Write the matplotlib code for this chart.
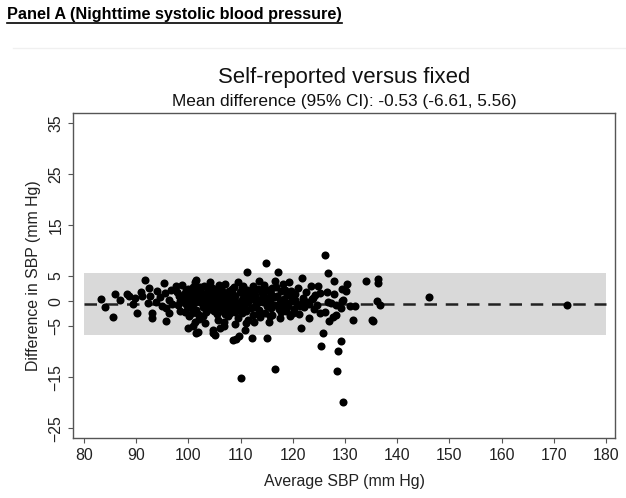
import matplotlib
matplotlib.use('Agg')
import matplotlib.pyplot as plt
from matplotlib.lines import Line2D
from matplotlib.patches import Rectangle
from matplotlib.transforms import IdentityTransform

plt.rcParams['font.family'] = ['Liberation Sans', 'DejaVu Sans']

# Summary numbers printed on the chart
mean_diff = -0.53
lower_loa = -6.61
upper_loa = 5.56

# Average SBP (x) and difference in SBP (y)
avg_sbp = [
    83.2, 84.0, 85.5, 86.0, 86.9, 88.3, 88.7, 89.3, 89.8, 90.1,
    90.9, 91.6, 91.2, 92.5, 92.6, 92.2, 93.1, 93.0, 93.9, 93.8,
    95.4, 95.6, 95.8, 96.2, 95.8, 96.7, 96.3, 94.6, 95.0, 96.8,
    98.3, 99.4, 100.2, 99.9, 101.2, 101.5, 101.8, 101.3, 101.5, 100.8,
    97.6, 97.9, 98.1, 98.4, 98.0, 98.8, 99.1, 99.3, 99.6, 99.8,
    100.1, 100.3, 100.5, 100.7, 100.9, 101.1, 101.4, 101.6, 101.9, 102.1,
    102.3, 102.6, 102.8, 103.0, 103.2, 103.4, 103.6, 103.8, 102.0, 103.1,
    104.4, 104.7, 104.0, 104.2, 104.5, 104.8, 105.0, 105.1, 105.3, 105.5,
    105.7, 105.9, 106.0, 106.3, 106.2, 106.5, 106.7, 106.9, 107.0, 107.2,
    107.4, 107.6, 107.8, 108.0, 104.7, 105.6, 106.8, 107.9, 104.1, 105.8,
    108.5, 109.2, 109.6, 109.4, 108.3, 108.6, 108.8, 109.0, 109.1, 109.5,
    109.8, 110.0, 110.1, 110.3, 110.5, 110.6, 110.8, 111.0, 111.3, 111.4,
    111.2, 111.5, 111.7, 111.9, 112.1, 112.5, 112.3, 112.4, 108.9, 110.9,
    112.7, 112.9, 113.1, 113.3, 113.5, 113.6, 113.8, 114.0, 114.2, 114.4,
    114.6, 114.9, 114.8, 115.0, 115.1, 115.3, 115.5, 115.7, 115.9, 116.1,
    116.5, 116.6, 116.3, 116.8, 117.0, 117.2, 117.4, 117.5, 117.7, 117.9,
    118.2, 118.4, 118.6, 118.8, 119.0, 119.3, 119.5, 119.7, 119.9, 120.2,
    120.4, 120.7, 121.0, 121.2, 121.5, 121.7, 121.9, 122.2, 122.5, 122.8,
    123.1, 123.4, 123.7, 124.0, 124.3, 124.6, 124.9, 125.2, 125.2, 125.3,
    125.7, 126.2, 126.8, 127.9, 130.3, 129.4, 130.2, 126.5, 127.9, 126.8,
    127.4, 128.3, 129.4, 129.7, 129.2, 131.0, 131.9, 131.6, 128.3, 127.6,
    127.0, 126.2, 129.2, 128.7, 128.5, 129.7, 134.1, 136.3, 136.3, 136.2,
    136.7, 135.1, 135.3, 146.1, 172.5,
    99.0, 99.7, 100.4, 101.0, 101.7, 102.4, 102.9, 103.5, 104.3, 104.9,
    105.4, 106.1, 106.6, 107.3, 107.7, 108.1, 108.7, 109.3, 109.9, 110.4,
    110.9, 111.6, 112.0, 112.6, 113.2, 113.9, 114.5, 115.2, 115.8, 116.4,
    117.1, 117.6, 118.1, 118.9, 119.6, 120.5, 121.3, 122.0, 123.0, 123.9,
    100.0, 102.2, 104.6, 106.4, 108.4, 110.2, 112.2, 114.1, 116.0, 118.5,
    100.6, 102.7, 104.9, 107.1, 109.0, 111.1, 113.4, 115.6, 117.8, 120.0,
]
diff_sbp = [
    0.4, -1.2, -3.2, 1.4, 0.2, 1.4, 0.9, -0.6, 0.7, -2.3,
    1.7, 4.2, 0.9, 2.5, 0.9, -0.4, -2.4, -3.4, 2.0, -0.1,
    3.5, 1.6, -1.4, -2.4, -4.0, 2.2, 0.2, 0.8, -0.9, -0.6,
    -1.9, -2.1, -3.0, -5.3, -4.2, -6.3, -6.0, 3.8, 4.2, -5.0,
    2.9, 1.8, 0.9, 0.1, -0.8, 3.1, 1.4, -0.4, 2.2, 0.6,
    -1.2, 1.9, 0.2, -0.7, 2.7, 1.2, -1.8, 0.5, -2.6, 2.0,
    -0.2, 1.5, -1.1, 3.0, 0.8, -2.1, -0.5, 1.9, -3.6, -4.4,
    2.8, -6.3, 0.3, -1.5, 1.2, -0.8, -6.6, 2.3, 0.0, -2.6,
    1.6, -1.1, -5.3, 2.5, 0.7, -0.3, -1.9, -5.0, 3.4, 1.1,
    -0.9, -3.0, 2.0, 0.4, -5.7, -3.8, -4.2, -2.3, 3.7, 3.1,
    -7.6, -7.5, -6.8, 3.7, 1.6, -0.5, 2.7, 0.9, -1.6, -3.3,
    1.8, -15.2, 0.1, -2.4, 3.0, -0.9, 1.3, -4.4, 5.7, -3.7,
    2.2, -0.2, 0.8, -1.4, -7.2, -4.2, 2.9, -2.7, -4.5, -5.6,
    1.2, -0.6, 0.3, 2.4, 4.0, -1.8, -3.1, 1.6, -0.1, 3.2,
    -2.3, 7.5, 0.6, -7.3, -1.0, 2.1, -4.1, 0.2, 1.4, -2.8,
    4.0, -13.3, -0.7, 2.7, 0.9, 5.7, -1.5, -3.4, 1.9, -0.3,
    3.3, 0.5, -2.0, 1.2, -0.9, 3.7, -3.0, 2.0, 0.0, -1.6,
    1.4, -0.5, 2.6, -2.6, -5.3, 4.5, 0.7, -1.2, 1.8, -0.2,
    -3.3, 2.9, 0.4, -1.5, 1.1, -0.8, 3.0, 1.6, -2.3, -8.9,
    -6.2, 9.1, 5.5, 4.0, 3.3, 2.3, 1.9, 1.7, 1.4, -0.1,
    -0.4, -0.7, 0.0, 0.2, -1.4, -0.9, -0.9, -3.7, -2.7, -3.2,
    -4.0, -2.1, -7.8, -9.9, -13.7, -19.9, 4.0, 4.3, 3.5, 0.1,
    -0.7, -3.7, -4.0, 0.8, -0.8,
    0.0, -1.0, 1.0, -0.3, 1.7, 0.9, 0.1, 1.3, -0.3, 0.6,
    1.0, -0.9, 1.7, 0.1, -1.4, -0.2, 0.3, -0.8, -1.2, 0.6,
    -0.3, 1.6, 0.4, -1.2, -0.4, 0.5, 1.0, -0.5, -1.4, 0.8,
    -0.8, 0.3, -1.1, -0.4, 0.9, 0.3, -0.9, 0.2, -0.6, 0.6,
    2.3, 2.8, 2.0, 1.3, 2.3, 2.5, 1.9, 2.2, 2.6, 2.2,
    -2.3, -2.9, -2.0, -2.5, -2.1, -2.0, -2.5, -3.0, -2.2, -2.3,
]

x_ticks = [80, 90, 100, 110, 120, 130, 140, 150, 160, 170, 180]
y_ticks = [-25, -15, -5, 0, 5, 15, 25, 35]

fig = plt.figure(figsize=(6.26, 4.98), dpi=100)
ax = fig.add_axes([73.3 / 626, 1 - 438.3 / 498, (615 - 73.3) / 626, (438.3 - 113) / 498])

# limits of agreement band and mean difference line
ax.add_patch(Rectangle((80, lower_loa), 100, upper_loa - lower_loa,
                       facecolor='#d9d9d9', edgecolor='none', zorder=1))
ax.plot([80, 180], [mean_diff, mean_diff], color='#222222', lw=1.8,
        dashes=(5, 3.5), zorder=2)
ax.plot(avg_sbp, diff_sbp, 'o', color='black', markersize=5.8,
        markeredgewidth=0, zorder=3)

ax.set_xlim(77.95, 181.7)
ax.set_ylim(-27.0, 37.0)
ax.set_xticks(x_ticks)
ax.set_yticks(y_ticks)
ax.tick_params(direction='out', length=3.6, width=0.8, color='#555555',
               labelsize=11.4, labelcolor='#222222', pad=3.5)
for lab in ax.get_yticklabels():
    lab.set_rotation(90)
    lab.set_va('center')
for s in ax.spines.values():
    s.set_color('#555555')
    s.set_linewidth(1.0)

ax.set_xlabel('Average SBP (mm Hg)', fontsize=11.4, color='#222222', labelpad=8)
ax.set_ylabel('Difference in SBP (mm Hg)', fontsize=11.4, color='#222222', labelpad=5)

# titles
fig.text(0.5 * (73.3 + 615) / 626, 1 - 77.5 / 498, 'Self-reported versus fixed',
         ha='center', va='center', fontsize=15.9, color='#111111')
fig.text(0.5 * (73.3 + 615) / 626, 1 - 101.5 / 498,
         'Mean difference (95% CI): -0.53 (-6.61, 5.56)',
         ha='center', va='center', fontsize=12.4, color='#111111')

# panel heading, underlined
t = fig.text(7 / 626, 1 - 15 / 498, 'Panel A (Nighttime systolic blood pressure)',
             ha='left', va='center', fontsize=11.7, fontweight='bold')
fig.canvas.draw()
bb = t.get_window_extent()
fig.add_artist(Line2D([bb.x0, bb.x1], [bb.y0 - 0.5, bb.y0 - 0.5],
                      transform=IdentityTransform(), color='black', lw=1.2))

# faint separator line under the heading
fig.add_artist(Line2D([13 / 626, 1], [1 - 48 / 498, 1 - 48 / 498],
                      transform=fig.transFigure, color='#f0f0f0', lw=1))

fig.savefig('out.png', dpi=100)
